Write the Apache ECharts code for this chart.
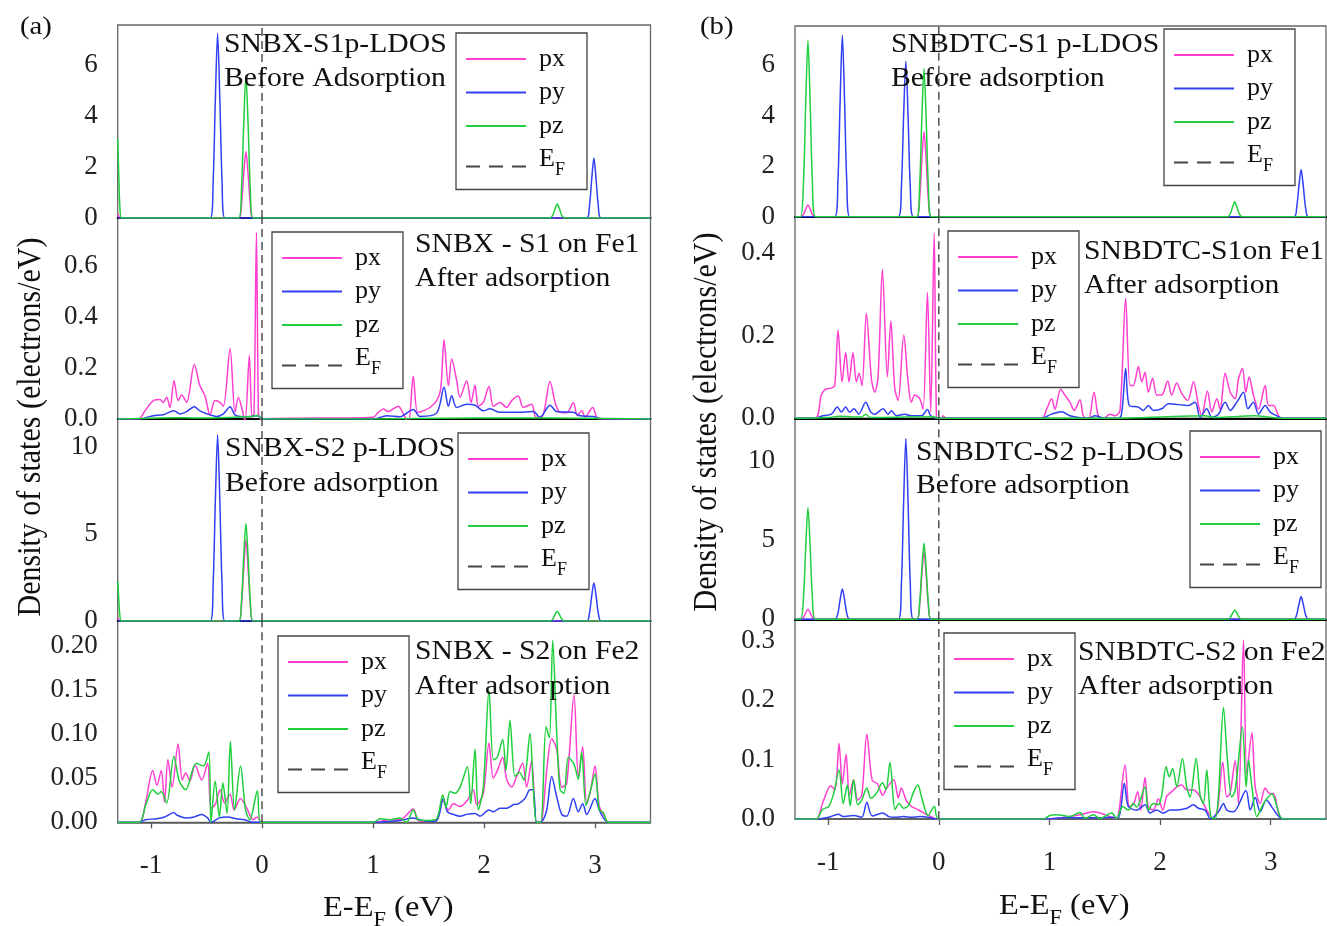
<!DOCTYPE html>
<html><head><meta charset="utf-8">
<script src="https://cdn.jsdelivr.net/npm/echarts/dist/echarts.min.js"></script>
<style>html,body{margin:0;padding:0;background:#fff}#c{width:1327px;height:926px}</style>
</head><body><div id="c"></div>
<script>
// ---------- tick labels ----------
const xTicks = ['-1','0','1','2','3'];
const a1Ticks = ['0','2','4','6'];
const a2Ticks = ['0.0','0.2','0.4','0.6'];
const a3Ticks = ['0','5','10'];
const a4Ticks = ['0.00','0.05','0.10','0.15','0.20'];
const b1Ticks = ['0','2','4','6'];
const b2Ticks = ['0.0','0.2','0.4'];
const b3Ticks = ['0','5','10'];
const b4Ticks = ['0.0','0.1','0.2','0.3'];

// ---------- (a) SNBX-S1 before adsorption ----------
const a1_px = [[-1.3,0.15],[-1.285,0.03],[-1.27,0],[-0.21,0],[-0.185,0.52],[-0.165,1.7],[-0.145,2.6],[-0.125,1.7],[-0.105,0.52],[-0.08,0],[3.5,0]];
const a1_py = [[-1.3,0],[-0.465,0],[-0.44,1.45],[-0.42,4.7],[-0.40,7.25],[-0.38,4.7],[-0.36,1.45],[-0.335,0],[2.925,0],[2.95,0.47],[2.97,1.5],[2.99,2.35],[3.01,1.5],[3.03,0.47],[3.055,0],[3.5,0]];
const a1_pz = [[-1.3,3.1],[-1.29,1.6],[-1.28,0.4],[-1.265,0],[-0.21,0],[-0.185,1.1],[-0.165,3.65],[-0.145,5.6],[-0.125,3.65],[-0.105,1.1],[-0.08,0],[2.595,0],[2.62,0.11],[2.64,0.36],[2.66,0.55],[2.68,0.36],[2.70,0.11],[2.725,0],[3.5,0]];

// ---------- (a) SNBX-S1 on Fe1 after adsorption ----------
const a2_px = [[-1.3,0],[-1.114,0],[-1.054,0.032],[-0.979,0.072],[-0.919,0.076],[-0.889,0.065],[-0.859,0.085],[-0.829,0.045],[-0.793,0.15],[-0.754,0.072],[-0.724,0.094],[-0.679,0.065],[-0.61,0.213],[-0.559,0.13],[-0.514,0.091],[-0.468,0.016],[-0.423,0.072],[-0.378,0.065],[-0.348,0.05],[-0.288,0.276],[-0.243,0.026],[-0.213,0.085],[-0.183,0.045],[-0.153,-0.01],[-0.114,0.25],[-0.09,0.007],[-0.072,0.02],[-0.05,0.73],[-0.032,0.02],[-0.015,0.0],[0.0,-0.04],[0.02,0],[1.003,0.007],[1.048,0.026],[1.093,0.039],[1.138,0.029],[1.183,0.04],[1.228,0.05],[1.273,0.02],[1.318,-0.015],[1.363,0.167],[1.402,0.026],[1.453,0.032],[1.513,0.045],[1.574,0.072],[1.61,0.118],[1.64,0.31],[1.679,0.13],[1.709,0.235],[1.754,0.15],[1.784,0.085],[1.844,0.15],[1.883,0.065],[1.919,0.132],[1.949,0.05],[1.994,0.065],[2.045,0.127],[2.084,0.05],[2.144,0.065],[2.204,0.045],[2.249,0.072],[2.309,0.09],[2.354,0.045],[2.429,0.058],[2.468,0.007],[2.519,0.007],[2.595,0.147],[2.64,0.065],[2.685,0.026],[2.745,0.024],[2.805,0.065],[2.841,0.013],[2.88,0.032],[2.91,0.007],[2.979,0.045],[3.021,0.003],[3.075,0],[3.5,0]];
const a2_py = [[-1.3,0],[-1.114,0],[-0.979,0.013],[-0.889,0.017],[-0.793,0.032],[-0.739,0.02],[-0.679,0.029],[-0.61,0.048],[-0.559,0.032],[-0.468,0.016],[-0.408,0.01],[-0.348,0.02],[-0.288,0.048],[-0.243,0.016],[-0.168,0.009],[-0.093,0.01],[-0.042,0.013],[-0.01,0.005],[0.02,0],[1.003,0],[1.123,0.013],[1.243,0.009],[1.363,0.037],[1.423,0.01],[1.574,0.024],[1.64,0.124],[1.679,0.05],[1.709,0.091],[1.754,0.045],[1.844,0.058],[1.919,0.054],[1.994,0.032],[2.054,0.04],[2.144,0.026],[2.294,0.026],[2.444,0.029],[2.504,0.007],[2.595,0.054],[2.655,0.029],[2.805,0.026],[2.865,0.013],[2.985,0.01],[3.075,0],[3.5,0]];
const a2_pz = [[-1.3,0],[-1.1,0.002],[-0.8,0.005],[-0.6,0.004],[-0.3,0.006],[-0.1,0.01],[-0.04,0.014],[0.0,0],[1.0,0],[1.6,0.003],[2.3,0.004],[2.9,0.003],[3.5,0]];

// ---------- (a) SNBX-S2 before adsorption ----------
const a3_px = [[-1.3,0.2],[-1.285,0.03],[-1.27,0],[-0.21,0],[-0.185,0.94],[-0.165,3.0],[-0.145,4.65],[-0.125,3.0],[-0.105,0.94],[-0.08,0],[3.5,0]];
const a3_py = [[-1.3,0],[-0.465,0],[-0.44,2.15],[-0.42,6.95],[-0.40,10.7],[-0.38,6.95],[-0.36,2.15],[-0.335,0],[2.925,0],[2.95,0.44],[2.97,1.43],[2.99,2.2],[3.01,1.43],[3.03,0.44],[3.055,0],[3.5,0]];
const a3_pz = [[-1.3,2.3],[-1.29,1.2],[-1.28,0.3],[-1.265,0],[-0.21,0],[-0.185,1.12],[-0.165,3.64],[-0.145,5.6],[-0.125,3.64],[-0.105,1.12],[-0.08,0],[2.595,0],[2.62,0.11],[2.64,0.36],[2.66,0.56],[2.68,0.36],[2.70,0.11],[2.725,0],[3.5,0]];

// ---------- (a) SNBX-S2 on Fe2 after adsorption ----------
const a4_px = [[-1.3,0],[-1.106,0],[-1.049,0.022],[-0.985,0.059],[-0.946,0.042],[-0.908,0.059],[-0.878,0.023],[-0.848,0.071],[-0.809,0.04],[-0.756,0.089],[-0.718,0.048],[-0.688,0.056],[-0.650,0.047],[-0.604,0.065],[-0.543,0.048],[-0.490,0.067],[-0.460,0.016],[-0.422,0.02],[-0.376,0.037],[-0.338,0.022],[-0.288,0.032],[-0.251,0.014],[-0.194,0.027],[-0.137,0.016],[-0.080,0.003],[-0.042,0.006],[-0.004,0],[1.003,0],[1.063,0.001],[1.153,0.003],[1.243,0.003],[1.363,0.015],[1.408,0.002],[1.483,0.001],[1.574,0.003],[1.628,0.025],[1.679,0.014],[1.724,0.021],[1.784,0.018],[1.850,0.025],[1.904,0.037],[1.934,0.02],[1.994,0.033],[2.045,0.09],[2.084,0.05],[2.120,0.059],[2.168,0.074],[2.204,0.049],[2.249,0.04],[2.294,0.052],[2.348,0.067],[2.384,0.04],[2.429,0.07],[2.474,0],[2.520,0.002],[2.565,0.059],[2.610,0.095],[2.655,0.083],[2.700,0.04],[2.745,0.044],[2.811,0.145],[2.850,0.052],[2.889,0.086],[2.925,0.021],[2.961,0.037],[3.000,0.064],[3.039,0.018],[3.090,0.006],[3.120,0],[3.5,0]];
const a4_py = [[-1.3,0],[-1.106,0],[-1.049,0.003],[-0.946,0.004],[-0.878,0.006],[-0.794,0.011],[-0.764,0.008],[-0.688,0.005],[-0.612,0.006],[-0.543,0.009],[-0.490,0.005],[-0.460,0],[-0.384,0.005],[-0.308,0.006],[-0.232,0.004],[-0.156,0.003],[-0.080,0],[1.003,0],[1.153,0.001],[1.243,0.002],[1.363,0.005],[1.483,0.001],[1.574,0.002],[1.634,0.027],[1.670,0.012],[1.724,0.009],[1.784,0.007],[1.844,0.009],[1.919,0.01],[1.964,0.007],[2.045,0.014],[2.084,0.012],[2.144,0.016],[2.204,0.016],[2.264,0.02],[2.309,0.021],[2.369,0.027],[2.414,0.037],[2.444,0.037],[2.474,0],[2.520,0.001],[2.565,0.014],[2.610,0.052],[2.655,0.029],[2.700,0.009],[2.745,0.007],[2.805,0.027],[2.850,0.012],[2.889,0.021],[2.925,0.009],[3.000,0.027],[3.045,0.012],[3.120,0],[3.5,0]];
const a4_pz = [[-1.3,0],[-1.106,0],[-1.049,0.019],[-0.985,0.037],[-0.935,0.032],[-0.908,0.035],[-0.859,0.022],[-0.794,0.075],[-0.745,0.047],[-0.688,0.037],[-0.593,0.067],[-0.528,0.064],[-0.479,0.08],[-0.460,0],[-0.422,0.047],[-0.384,0.006],[-0.353,0.045],[-0.315,0.01],[-0.285,0.092],[-0.247,0.014],[-0.194,0.064],[-0.148,0.014],[-0.110,0.003],[-0.042,0.036],[-0.011,0],[1.003,0],[1.063,0.004],[1.153,0.003],[1.243,0.005],[1.303,0],[1.363,0.014],[1.408,0.003],[1.483,0.002],[1.574,0.004],[1.628,0.031],[1.658,0.017],[1.694,0.035],[1.739,0.033],[1.784,0.04],[1.850,0.063],[1.880,0.021],[1.919,0.083],[1.949,0.014],[1.994,0.04],[2.045,0.15],[2.084,0.071],[2.120,0.074],[2.168,0.094],[2.198,0.059],[2.234,0.116],[2.279,0.052],[2.318,0.057],[2.360,0.048],[2.414,0.101],[2.444,0.04],[2.474,0],[2.511,0],[2.559,0.109],[2.589,0.096],[2.619,0.207],[2.655,0.101],[2.685,0.037],[2.721,0.033],[2.760,0.074],[2.811,0.066],[2.850,0.049],[2.880,0.08],[2.919,0.019],[2.961,0.037],[3.000,0.055],[3.039,0.014],[3.075,0.011],[3.120,0],[3.5,0]];

// ---------- (b) SNBDTC-S1 before adsorption ----------
const b1_px = [[-1.3,0],[-1.25,0],[-1.223,0.09],[-1.203,0.3],[-1.183,0.46],[-1.163,0.3],[-1.143,0.09],[-1.115,0],[-0.20,0],[-0.174,0.67],[-0.154,2.2],[-0.134,3.36],[-0.114,2.2],[-0.094,0.67],[-0.068,0],[3.5,0]];
const b1_py = [[-1.3,0],[-0.94,0],[-0.912,1.4],[-0.892,4.6],[-0.872,7.18],[-0.852,4.6],[-0.832,1.4],[-0.805,0],[-0.365,0],[-0.338,1.2],[-0.318,4.0],[-0.298,6.15],[-0.278,4.0],[-0.258,1.2],[-0.23,0],[3.21,0],[3.235,0.37],[3.255,1.2],[3.275,1.87],[3.295,1.2],[3.315,0.37],[3.34,0],[3.5,0]];
const b1_pz = [[-1.3,0],[-1.25,0],[-1.223,1.4],[-1.203,4.5],[-1.183,6.98],[-1.163,4.5],[-1.143,1.4],[-1.115,0],[-0.20,0],[-0.174,1.15],[-0.154,3.8],[-0.134,5.86],[-0.114,3.8],[-0.094,1.15],[-0.068,0],[2.61,0],[2.635,0.12],[2.655,0.38],[2.675,0.59],[2.695,0.38],[2.715,0.12],[2.74,0],[3.5,0]];

// ---------- (b) SNBDTC-S1 on Fe1 after adsorption ----------
const b2_px = [[-1.3,0],[-1.116,0],[-1.062,0.056],[-1.026,0.07],[-0.971,0.073],[-0.941,0.079],[-0.911,0.213],[-0.875,0.088],[-0.842,0.159],[-0.812,0.088],[-0.776,0.159],[-0.745,0.088],[-0.721,0.109],[-0.694,0.079],[-0.655,0.254],[-0.609,0.095],[-0.579,0.063],[-0.549,0.1],[-0.510,0.36],[-0.465,0.1],[-0.434,0.235],[-0.398,0.072],[-0.368,0.043],[-0.317,0.201],[-0.278,0.088],[-0.248,0.039],[-0.217,0.056],[-0.172,0.047],[-0.142,0.022],[-0.103,0.304],[-0.073,0.015],[-0.042,0.447],[-0.021,0],[0.003,-0.023],[0.039,0.006],[0.069,0],[0.929,0],[0.975,0.022],[1.020,0.047],[1.050,0.022],[1.101,0.07],[1.140,0.056],[1.185,0.039],[1.225,0.019],[1.276,0.045],[1.306,0.006],[1.351,-0.005],[1.403,0.063],[1.442,0.006],[1.487,0],[1.548,0.01],[1.593,0.006],[1.638,0.019],[1.689,0.29],[1.728,0.079],[1.758,0.079],[1.804,0.125],[1.834,0.088],[1.864,0.111],[1.894,0.063],[1.933,0.097],[1.970,0.056],[2.015,0.056],[2.069,0.09],[2.105,0.056],[2.151,0.085],[2.196,0.06],[2.250,0.043],[2.302,0.088],[2.347,0.031],[2.377,0.006],[2.428,0.066],[2.468,0.015],[2.513,0.047],[2.543,0.022],[2.588,0.109],[2.634,0.063],[2.679,0.047],[2.709,0.095],[2.745,0.12],[2.775,0.063],[2.805,0.1],[2.844,0.056],[2.890,0.022],[2.950,0.079],[2.980,0.031],[3.026,0.031],[3.071,0.006],[3.101,0],[3.5,0]];
const b2_py = [[-1.3,0],[-1.116,0],[-1.062,0.005],[-0.971,0.01],[-0.917,0.027],[-0.881,0.015],[-0.842,0.027],[-0.806,0.015],[-0.767,0.023],[-0.724,0.01],[-0.661,0.039],[-0.615,0.015],[-0.579,0.01],[-0.504,0.023],[-0.459,0.01],[-0.428,0.018],[-0.383,0.006],[-0.308,0.01],[-0.248,0.006],[-0.157,0.006],[-0.103,0.021],[-0.073,0.006],[-0.021,0],[0.929,0],[1.020,0.01],[1.110,0.016],[1.185,0.006],[1.261,0.002],[1.351,0],[1.412,0.006],[1.502,0],[1.593,0],[1.648,0.006],[1.689,0.12],[1.722,0.031],[1.804,0.027],[1.849,0.019],[1.894,0.031],[1.940,0.019],[2.015,0.023],[2.075,0.035],[2.256,0.031],[2.317,0.039],[2.362,0.002],[2.422,0.023],[2.468,0.002],[2.528,0.01],[2.588,0.039],[2.634,0.019],[2.694,0.039],[2.754,0.063],[2.794,0.023],[2.844,0.039],[2.890,0.01],[2.950,0.031],[2.995,0.015],[3.056,0.006],[3.101,0],[3.5,0]];
const b2_pz = [[-1.3,0],[-1.0,0.002],[-0.9,0.005],[-0.7,0.003],[-0.66,0.01],[-0.62,0.002],[-0.3,0.003],[-0.05,0.004],[0,0],[1.6,0],[2.4,0.006],[2.5,0.002],[2.85,0.006],[3.1,0],[3.5,0]];

// ---------- (b) SNBDTC-S2 before adsorption ----------
const b3_px = [[-1.3,0],[-1.25,0],[-1.223,0.13],[-1.203,0.41],[-1.183,0.63],[-1.163,0.41],[-1.143,0.13],[-1.115,0],[-0.20,0],[-0.174,0.85],[-0.154,2.77],[-0.134,4.26],[-0.114,2.77],[-0.094,0.85],[-0.068,0],[3.5,0]];
const b3_py = [[-1.3,0],[-0.94,0],[-0.912,0.38],[-0.892,1.24],[-0.872,1.91],[-0.852,1.24],[-0.832,0.38],[-0.805,0],[-0.365,0],[-0.338,2.28],[-0.318,7.41],[-0.298,11.4],[-0.278,7.41],[-0.258,2.28],[-0.23,0],[3.21,0],[3.235,0.29],[3.255,0.93],[3.275,1.43],[3.295,0.93],[3.315,0.29],[3.34,0],[3.5,0]];
const b3_pz = [[-1.3,0],[-1.25,0],[-1.223,1.41],[-1.203,4.57],[-1.183,7.03],[-1.163,4.57],[-1.143,1.41],[-1.115,0],[-0.20,0],[-0.174,0.96],[-0.154,3.11],[-0.134,4.79],[-0.114,3.11],[-0.094,0.96],[-0.068,0],[2.61,0],[2.635,0.12],[2.655,0.38],[2.675,0.59],[2.695,0.38],[2.715,0.12],[2.74,0],[3.5,0]];

// ---------- (b) SNBDTC-S2 on Fe2 after adsorption ----------
const b4_px = [[-1.3,0],[-1.108,0],[-1.052,0.026],[-0.977,0.056],[-0.939,0.049],[-0.902,0.127],[-0.872,0.059],[-0.838,0.109],[-0.808,0.04],[-0.771,0.066],[-0.733,0.032],[-0.696,0.04],[-0.651,0.1425],[-0.602,0.065],[-0.553,0.059],[-0.508,0.04],[-0.471,0.052],[-0.407,0.066],[-0.366,0.035],[-0.340,0.052],[-0.291,0.03],[-0.246,0.021],[-0.190,0.016],[-0.115,0.008],[-0.059,0.003],[-0.022,0],[0.944,0],[1.065,0.001],[1.276,0.007],[1.397,0.012],[1.563,0.003],[1.607,0.001],[1.683,0.091],[1.722,0.021],[1.758,0.024],[1.798,0.046],[1.825,0.015],[1.864,0.07],[1.894,0.02],[1.939,0.015],[1.985,0.034],[2.024,0.015],[2.060,0.038],[2.105,0.046],[2.151,0.054],[2.196,0.057],[2.241,0.049],[2.301,0.049],[2.347,0.042],[2.392,0.026],[2.437,0.01],[2.476,0.001],[2.519,0.015],[2.567,0.096],[2.603,0.037],[2.633,0.043],[2.679,0.098],[2.709,0.026],[2.754,0.301],[2.784,0.077],[2.830,0.145],[2.860,0.054],[2.905,0.026],[2.950,0.052],[2.989,0.043],[3.026,0.043],[3.071,0.01],[3.110,0],[3.5,0]];
const b4_py = [[-1.3,0],[-1.108,0],[-0.995,0.003],[-0.909,0.008],[-0.864,0.004],[-0.771,0.006],[-0.696,0.003],[-0.651,0.028],[-0.602,0.005],[-0.508,0.01],[-0.452,0.004],[-0.396,0.003],[-0.321,0.004],[-0.246,0.003],[-0.171,0.004],[-0.097,0.003],[-0.022,0],[0.944,0],[1.125,0.002],[1.276,0.002],[1.457,0.002],[1.563,0.003],[1.623,0.002],[1.677,0.06],[1.713,0.021],[1.789,0.015],[1.864,0.024],[1.909,0.01],[1.970,0.015],[2.030,0.01],[2.090,0.015],[2.151,0.015],[2.241,0.018],[2.301,0.024],[2.347,0.018],[2.407,0.015],[2.458,0],[2.528,0.012],[2.573,0.026],[2.603,0.015],[2.664,0.012],[2.776,0.048],[2.815,0.015],[2.860,0.036],[2.905,0.012],[2.960,0.032],[3.011,0.02],[3.056,0.008],[3.110,0],[3.5,0]];
const b4_pz = [[-1.3,0],[-1.108,0],[-1.052,0.016],[-0.995,0.021],[-0.950,0.043],[-0.902,0.0825],[-0.864,0.026],[-0.827,0.057],[-0.801,0.022],[-0.771,0.066],[-0.733,0.024],[-0.696,0.032],[-0.651,0.052],[-0.614,0.035],[-0.565,0.043],[-0.508,0.061],[-0.478,0.049],[-0.441,0.095],[-0.396,0.016],[-0.358,0.026],[-0.321,0.018],[-0.276,0.022],[-0.227,0.046],[-0.190,0.057],[-0.153,0.035],[-0.097,0.006],[-0.040,0.021],[-0.003,0],[0.944,0],[1.004,0.006],[1.065,0.007],[1.125,0.006],[1.185,0.004],[1.276,0.011],[1.321,0.001],[1.397,0.007],[1.457,0.001],[1.563,0.01],[1.607,0.001],[1.662,0.021],[1.713,0.015],[1.758,0.026],[1.789,0.02],[1.864,0.054],[1.894,0.015],[1.939,0.026],[1.985,0.024],[2.015,0.04],[2.054,0.088],[2.084,0.071],[2.114,0.085],[2.151,0.054],[2.202,0.102],[2.241,0.054],[2.271,0.037],[2.326,0.102],[2.362,0.04],[2.392,0.026],[2.422,0.0825],[2.458,0.004],[2.498,0.001],[2.528,0.04],[2.573,0.188],[2.609,0.099],[2.648,0.037],[2.679,0.048],[2.745,0.155],[2.778,0.054],[2.800,0.099],[2.830,0.054],[2.875,0.004],[2.935,0.026],[3.011,0.042],[3.056,0.021],[3.110,0],[3.5,0]];

// ---------- texts ----------
const annotations = [
  ['SNBX-S1p-LDOS', 224, 45], ['Before Adsorption', 224, 79],
  ['SNBX - S1 on Fe1', 415, 245], ['After adsorption', 415, 279],
  ['SNBX-S2 p-LDOS', 225, 449], ['Before adsorption', 225, 484],
  ['SNBX - S2 on Fe2', 415, 652], ['After adsorption', 415, 687],
  ['SNBDTC-S1 p-LDOS', 891, 45], ['Before adsorption', 891, 79],
  ['SNBDTC-S1on Fe1', 1084, 252], ['After adsorption', 1084, 286],
  ['SNBDTC-S2 p-LDOS', 916, 453], ['Before adsorption', 916, 486],
  ['SNBDTC-S2 on Fe2', 1078, 653], ['After adsorption', 1078, 687]
];

// ---------- build ----------
const FONT = '"Liberation Serif", "Times New Roman", serif';
const COL = {px:'#ff3fcf', py:'#2f3ff2', pz:'#1fcf3c'};
const DASH_ICON = 'path://M0,0h14v2h-14zM23,0h14v2h-14zM46,0h14v2h-14z';

const panels = [
  {g:{left:117.7, top:25, width:532.8, height:193},   yMax:7.57,  ticks:a1Ticks, d:[a1_px,a1_py,a1_pz], lg:[456,33],  bottom:false},
  {g:{left:117.7, top:218, width:532.8, height:201},  yMax:0.787, ticks:a2Ticks, d:[a2_px,a2_py,a2_pz], lg:[272,232], bottom:false},
  {g:{left:117.7, top:419, width:532.8, height:202},  yMax:11.6,  ticks:a3Ticks, d:[a3_px,a3_py,a3_pz], lg:[458,433], bottom:false},
  {g:{left:117.7, top:621, width:532.8, height:201.3},yMax:0.2288,ticks:a4Ticks, d:[a4_px,a4_py,a4_pz], lg:[278,636], bottom:true},
  {g:{left:795, top:26, width:531, height:190.7},     yMax:7.54,  ticks:b1Ticks, d:[b1_px,b1_py,b1_pz], lg:[1164,29], bottom:false},
  {g:{left:795, top:216.7, width:531, height:201.6},  yMax:0.487, ticks:b2Ticks, d:[b2_px,b2_py,b2_pz], lg:[948,231], bottom:false},
  {g:{left:795, top:418.3, width:531, height:201},    yMax:12.67, ticks:b3Ticks, d:[b3_px,b3_py,b3_pz], lg:[1190,431], bottom:false},
  {g:{left:795, top:619.3, width:531, height:199.7},  yMax:0.336, ticks:b4Ticks, d:[b4_px,b4_py,b4_pz], lg:[944,633], bottom:true}
];

function labelFor(list, v){
  const t = list.find(s => Math.abs(Number(s) - v) < 1e-6);
  return t === undefined ? '' : t;
}

const grid=[], xAxis=[], yAxis=[], series=[], legend=[];
panels.forEach((p,i)=>{
  grid.push(Object.assign({show:true, borderColor:'#666', borderWidth:1.3}, p.g));
  xAxis.push({type:'value', gridIndex:i, min:-1.3, max:3.5, splitLine:{show:false},
    axisLine:{show:true, onZero:false, lineStyle: p.bottom ? {color:'#555', width:1.5} : {color:'#000', width:2}},
    axisTick:{show:p.bottom, inside:false, length:6, customValues:xTicks.map(Number), lineStyle:{color:'#555', width:1.3}},
    axisLabel:{show:p.bottom, margin:30, fontFamily:FONT, fontSize:27, color:'#222', customValues:xTicks.map(Number), formatter:v=>labelFor(xTicks,v)}});
  yAxis.push({type:'value', gridIndex:i, min:0, max:p.yMax, splitLine:{show:false}, axisLine:{show:false}, axisTick:{show:false},
    axisLabel:{margin:20, fontFamily:FONT, fontSize:27, color:'#222', customValues:p.ticks.map(Number), formatter:v=>labelFor(p.ticks,v)}});
  ['px','py','pz'].forEach((nm,k)=>{
    series.push({type:'line', name:nm, xAxisIndex:i, yAxisIndex:i, data:p.d[k], symbol:'none', smooth:0.3,
      lineStyle:{color:COL[nm], width:1.5}, itemStyle:{color:COL[nm]}, z:2+k, animation:false, silent:true});
  });
  series.push({type:'line', name:'E_F', xAxisIndex:i, yAxisIndex:i, data:[[0,0],[0,p.yMax]], symbol:'none',
    lineStyle:{color:'#444', width:1.4, type:[8,5]}, itemStyle:{color:'#444'}, z:6, animation:false, silent:true});
  legend.push({orient:'vertical', left:p.lg[0], top:p.lg[1], selectedMode:false,
    data:[{name:'px', icon:'rect'},{name:'py', icon:'rect'},{name:'pz', icon:'rect'},{name:'E_F', icon:DASH_ICON}],
    itemWidth:60, itemHeight:2, itemGap:7.5, padding:[13,22,10,10], borderColor:'#444', borderWidth:1.3, backgroundColor:'#fff',
    formatter:n => n === 'E_F' ? '{e|E}{f|F}' : n,
    textStyle:{fontFamily:FONT, fontSize:26, lineHeight:26, color:'#111', padding:[0,0,0,8],
      rich:{e:{fontFamily:FONT, fontSize:26, lineHeight:26, padding:[0,0,7,0], verticalAlign:'bottom', color:'#111'},
            f:{fontFamily:FONT, fontSize:18, lineHeight:18, verticalAlign:'bottom', color:'#111'}}}});
});

const graphic = [];
annotations.forEach(a=>{
  graphic.push({type:'text', x:a[1], y:a[2], scaleX:1.1, z:50, silent:true,
    style:{text:a[0], font:'27px "Liberation Serif"', fill:'#111', align:'left', verticalAlign:'middle', textAlign:'left', textVerticalAlign:'middle'}});
});
[['(a)',20,27],['(b)',700,27]].forEach(a=>{
  graphic.push({type:'text', x:a[1], y:a[2], scaleX:1.15, silent:true,
    style:{text:a[0], font:'25px "Liberation Serif"', fill:'#111', align:'left', verticalAlign:'middle', textAlign:'left', textVerticalAlign:'middle'}});
});
[[323,916],[999,914]].forEach(a=>{
  graphic.push({type:'text', x:a[0], y:a[1], scaleX:1.12, silent:true,
    style:{text:'{n|E-E}{s|F}{n| (eV)}', fill:'#111', align:'left', verticalAlign:'middle', textAlign:'left', textVerticalAlign:'middle',
      font:'29px "Liberation Serif"',
      rich:{n:{fontFamily:'Liberation Serif', fontSize:29, lineHeight:29, padding:[0,0,8,0], verticalAlign:'bottom', fill:'#111', color:'#111'},
            s:{fontFamily:'Liberation Serif', fontSize:20, lineHeight:20, verticalAlign:'bottom', fill:'#111', color:'#111'}}}});
});
[[31,427],[707,422]].forEach(a=>{
  graphic.push({type:'text', x:a[0], y:a[1], rotation:Math.PI/2, scaleY:1.1, silent:true,
    style:{text:'Density of states (electrons/eV)', font:'30px "Liberation Serif"', fill:'#111', align:'center', verticalAlign:'middle', textAlign:'center', textVerticalAlign:'middle'}});
});

const chart = echarts.init(document.getElementById('c'), null, {renderer:'canvas'});
chart.setOption({animation:false, backgroundColor:'#fff', grid, xAxis, yAxis, series, legend, graphic});
</script></body></html>
